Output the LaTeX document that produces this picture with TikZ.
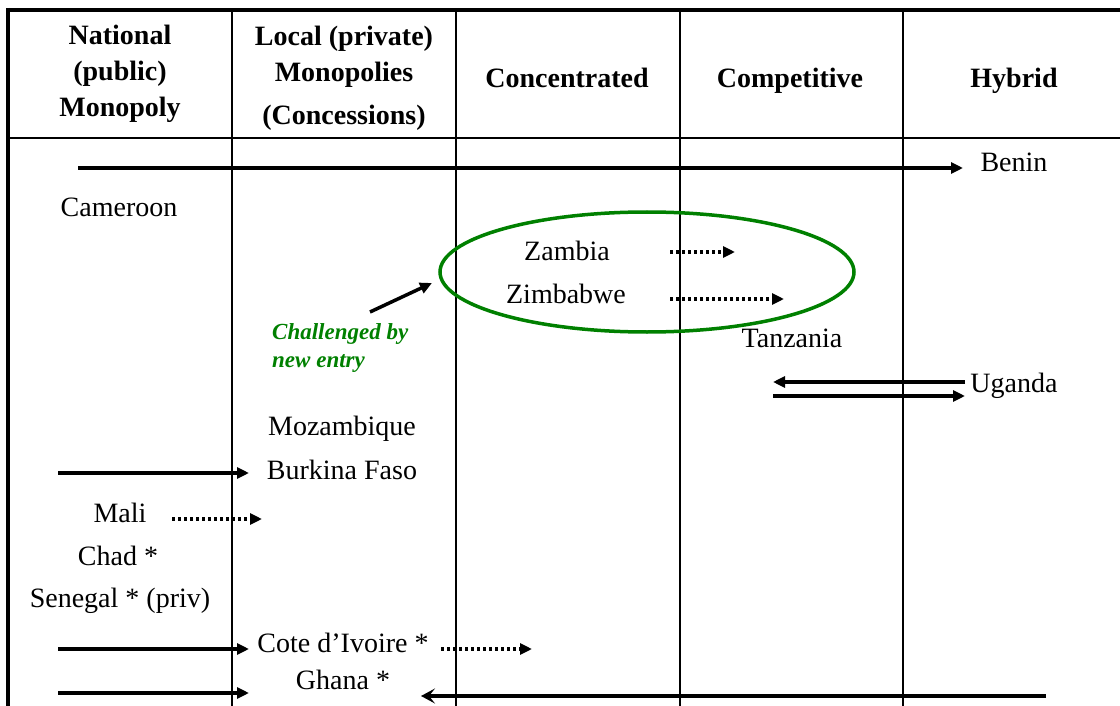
\documentclass[tikz,border=0pt]{standalone}
\usepackage{fontspec}
\setmainfont{Liberation Serif}
\usetikzlibrary{arrows.meta,shapes.geometric}
\definecolor{dkgreen}{RGB}{0,128,0}
\begin{document}
\begin{tikzpicture}[x=1pt,y=-1pt,
  txt/.style={anchor=base,inner sep=0pt,font=\fontsize{28}{34}\selectfont},
  hdr/.style={anchor=north,inner sep=0pt,align=center,font=\fontsize{28}{36}\selectfont\bfseries},
  gridline/.style={line width=1.7pt},
  frameline/.style={line width=4pt},
  arr/.style={line width=3.5pt,-{Triangle[length=12pt,width=11pt]}},
  darr/.style={line width=3.5pt,dash pattern=on 3pt off 3pt,-{Triangle[length=12pt,width=11pt]}},
  barr/.style={line width=3.5pt,-{Stealth[length=14pt,width=15pt,inset=6pt]}},
  note/.style={anchor=north west,inner sep=0pt,align=left,text=dkgreen,font=\fontsize{23}{28}\selectfont\bfseries\itshape}
]
\useasboundingbox (0,0) rectangle (1120,706);

% table frame
\draw[gridline] (8,138) -- (1120,138);
\foreach \xx in {232,456,680,903} \draw[gridline] (\xx,10) -- (\xx,706);
\draw[frameline] (6,10) -- (1120,10);
\draw[frameline] (8,8) -- (8,706);

% headers
\node[hdr] (h1) at (120,25) {National\\(public)\\Monopoly};
\node[hdr] (h2) at (344,26) {Local (private)\\Monopolies\\[7pt](Concessions)};
\node[txt,font=\fontsize{28}{34}\selectfont\bfseries] (h3) at (567,88) {Concentrated};
\node[txt,font=\fontsize{28}{34}\selectfont\bfseries] (h4) at (790,88) {Competitive};
\node[txt,font=\fontsize{28}{34}\selectfont\bfseries] (h5) at (1014,88) {Hybrid};

% countries
\node[txt] (benin) at (1014,172) {Benin};
\node[txt] (cameroon) at (119,216) {Cameroon};
\node[txt] (zambia) at (567,260) {Zambia};
\node[txt] (zimbabwe) at (566,303) {Zimbabwe};
\node[txt] (tanzania) at (792,347) {Tanzania};
\node[txt] (uganda) at (1014,392) {Uganda};
\node[txt] (mozambique) at (342,435) {Mozambique};
\node[txt] (burkina) at (342,479) {Burkina Faso};
\node[txt] (mali) at (120,522) {Mali};
\node[txt] (chad) at (118,565) {Chad *};
\node[txt] (senegal) at (120,607) {Senegal * (priv)};
\node[txt] (cote) at (343,652) {Cote d'Ivoire *};
\node[txt] (ghana) at (343,689) {Ghana *};

% green oval and note
\node[draw=dkgreen,line width=3.5pt,ellipse,inner sep=0pt,minimum width=414pt,minimum height=120pt] (oval) at (647,272) {};
\node[note] (challenged) at (272,323) {Challenged by\\new entry};

% connector end points
\coordinate (beninS) at (78,168);   \coordinate (beninE) at (963,168);
\coordinate (zamS) at (670,252);    \coordinate (zamE) at (735,252);
\coordinate (zimS) at (670,299);    \coordinate (zimE) at (784,299);
\coordinate (chS) at (370,312);     \coordinate (chE) at (432,283);
\coordinate (ugTopS) at (965,382);  \coordinate (ugTopE) at (773,382);
\coordinate (ugBotS) at (773,396);  \coordinate (ugBotE) at (965,396);
\coordinate (bfS) at (58,473);      \coordinate (bfE) at (249,473);
\coordinate (maliS) at (172,519);   \coordinate (maliE) at (262,519);
\coordinate (ciS) at (58,649);      \coordinate (ciE) at (249,649);
\coordinate (ciDS) at (441,649);    \coordinate (ciDE) at (532,649);
\coordinate (ghS) at (58,693);      \coordinate (ghE) at (249,693);
\coordinate (ghRS) at (1046,696);   \coordinate (ghRE) at (421,696);

% connectors
\draw[arr] (beninS) -- (beninE);
\draw[darr] (zamS) -- (zamE);
\draw[darr] (zimS) -- (zimE);
\draw[arr] (chS) -- (chE);
\draw[arr] (ugTopS) -- (ugTopE);
\draw[arr] (ugBotS) -- (ugBotE);
\draw[arr] (bfS) -- (bfE);
\draw[darr] (maliS) -- (maliE);
\draw[arr] (ciS) -- (ciE);
\draw[darr] (ciDS) -- (ciDE);
\draw[arr] (ghS) -- (ghE);
\draw[barr] (ghRS) -- (ghRE);
\end{tikzpicture}
\end{document}
